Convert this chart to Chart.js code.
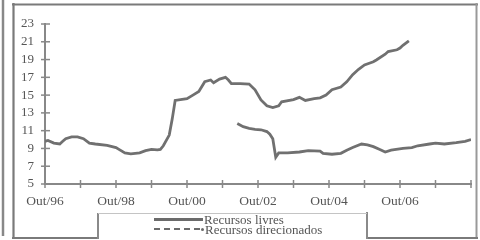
<!DOCTYPE html>
<html>
<head>
<meta charset="utf-8">
<script src="https://cdn.jsdelivr.net/npm/chart.js@4"></script>
<style>
  html, body { margin: 0; padding: 0; background: #fff; }
  #wrap { position: relative; width: 480px; height: 240px; overflow: hidden; background: #fff; }
  #c { position: absolute; left: 0; top: 0; }
  .leg { position: absolute; font-family: "Liberation Serif", "DejaVu Serif", serif; font-size: 13px; color: #555; white-space: nowrap; line-height: 13px; }
</style>
</head>
<body>
<div id="wrap">
  <canvas id="c" width="480" height="240"></canvas>
  <div style="position:absolute;left:154px;top:218px;width:49px;height:2.5px;background:#6b6b6b"></div>
  <div class="leg" id="leg1" style="left:204px;top:213px"></div>
  <div style="position:absolute;left:154px;top:228px;width:46px;height:0;border-top:2.5px dashed #6b6b6b"></div>
  <div style="position:absolute;left:201px;top:228px;width:3px;height:3px;background:#6b6b6b;border-radius:2px"></div>
  <div class="leg" id="leg2" style="left:205px;top:223px"></div>
</div>
<script>
// x positions are months counted from Out/96 (0) to Out/08 (144)
const seriesNames = ['Recursos livres', 'Recursos direcionados'];

const livresMonths = [0, 1, 3, 5, 6, 7, 9, 11, 13, 15, 17, 21, 24, 25, 27, 29, 32, 34, 36, 38, 39, 40, 42, 43, 44, 48, 50, 52, 54, 56, 57, 59, 61, 62, 63, 66, 69, 71, 73, 75, 77, 79, 80, 84, 86, 88, 91, 93, 95, 97, 100, 102, 104, 106, 108, 111, 112, 115, 116, 119, 120, 121, 123];
const livresValues = [9.8, 9.9, 9.6, 9.5, 9.8, 10.1, 10.3, 10.3, 10.1, 9.6, 9.5, 9.35, 9.1, 8.9, 8.5, 8.4, 8.5, 8.75, 8.9, 8.85, 8.9, 9.3, 10.5, 12.3, 14.4, 14.6, 15.0, 15.4, 16.5, 16.7, 16.4, 16.8, 17.0, 16.7, 16.3, 16.3, 16.25, 15.6, 14.45, 13.8, 13.6, 13.8, 14.25, 14.5, 14.75, 14.4, 14.6, 14.7, 15.0, 15.6, 15.9, 16.5, 17.3, 17.9, 18.4, 18.75, 18.95, 19.6, 19.9, 20.1, 20.3, 20.6, 21.1];

const direcMonths = [65, 67, 69, 71, 73, 75, 76, 77, 78, 79, 82, 86, 89, 93, 94, 97, 100, 102, 104, 107, 109, 111, 113, 115, 117, 121, 124, 126, 130, 132, 135, 139, 142, 144];
const direcValues = [11.8, 11.45, 11.25, 11.15, 11.1, 10.9, 10.6, 10.1, 8.0, 8.5, 8.5, 8.6, 8.75, 8.7, 8.45, 8.35, 8.45, 8.8, 9.1, 9.5, 9.4, 9.2, 8.9, 8.6, 8.8, 9.0, 9.1, 9.3, 9.5, 9.6, 9.5, 9.65, 9.8, 10.0];

const xTickLabels = ['Out/96', '', 'Out/98', '', 'Out/00', '', 'Out/02', '', 'Out/04', '', 'Out/06', '', ''];
const yTickValues = [5, 7, 9, 11, 13, 15, 17, 19, 21, 23];

document.getElementById('leg1').textContent = seriesNames[0];
document.getElementById('leg2').textContent = seriesNames[1];

const toPoints = (xs, ys) => xs.map((m, i) => ({ x: m, y: ys[i] }));

function seg(ctx, x1, y1, x2, y2, color, w) {
  ctx.beginPath();
  ctx.strokeStyle = color;
  ctx.lineWidth = w;
  ctx.moveTo(x1, y1);
  ctx.lineTo(x2, y2);
  ctx.stroke();
}

const frame = {
  id: 'frame',
  afterDraw(chart) {
    const ctx = chart.ctx, xs = chart.scales.x, ys = chart.scales.y;
    ctx.save();
    // page edge
    seg(ctx, 3, 0, 3, 236, '#888', 2.5);
    // outer frame
    seg(ctx, 12, 4.5, 478, 4.5, '#7a7a7a', 2.2);
    seg(ctx, 13.5, 3, 13.5, 239, '#7a7a7a', 2.2);
    seg(ctx, 476.5, 3, 476.5, 239, '#999', 2);
    seg(ctx, 12, 238, 98, 238, '#7a7a7a', 2.2);
    seg(ctx, 366, 238, 478, 238, '#7a7a7a', 2.2);
    // legend box
    seg(ctx, 98, 213, 98, 239, '#8a8a8a', 2);
    seg(ctx, 367, 212, 367, 239, '#8a8a8a', 2);
    seg(ctx, 98, 213.5, 367, 213.5, '#c4c4c4', 1);
    // axis tick marks crossing the axes
    xs.ticks.forEach((t, i) => {
      const px = xs.getPixelForTick(i);
      seg(ctx, px, ys.bottom - 4, px, ys.bottom + 4, '#888', 1.5);
    });
    ys.ticks.forEach((t, i) => {
      const py = ys.getPixelForTick(i);
      seg(ctx, xs.left - 4, py, xs.left + 5, py, '#888', 1.5);
    });
    ctx.restore();
  }
};

new Chart(document.getElementById('c'), {
  type: 'line',
  data: {
    datasets: [
      { label: seriesNames[0], data: toPoints(livresMonths, livresValues), borderColor: '#707070', borderWidth: 2.8, pointRadius: 0, tension: 0, fill: false },
      { label: seriesNames[1], data: toPoints(direcMonths, direcValues), borderColor: '#707070', borderWidth: 2.8, pointRadius: 0, tension: 0, fill: false }
    ]
  },
  options: {
    responsive: false,
    animation: false,
    layout: { padding: { left: 0, top: 24, right: 8, bottom: 0 } },
    plugins: { legend: { display: false }, tooltip: { enabled: false } },
    scales: {
      x: {
        type: 'linear', min: 0, max: 144,
        afterBuildTicks(s) { s.ticks = xTickLabels.map((l, i) => ({ value: i * 12 })); },
        afterFit(s) { s.height = 56; },
        grid: { display: false, drawTicks: false },
        border: { display: true, color: '#888', width: 2 },
        ticks: {
          autoSkip: false, maxRotation: 0, padding: 9,
          color: '#555',
          font: { family: 'Liberation Serif', size: 13.5 },
          callback: (v) => xTickLabels[Math.round(v / 12)]
        }
      },
      y: {
        min: 5, max: 23,
        afterBuildTicks(s) { s.ticks = yTickValues.map(v => ({ value: v })); },
        afterFit(s) { s.width = 45; },
        grid: { display: false, drawTicks: false },
        border: { display: true, color: '#888', width: 2 },
        ticks: {
          autoSkip: false,
          padding: 11,
          color: '#555',
          font: { family: 'Liberation Serif', size: 13 },
          callback: (v) => String(v)
        }
      }
    }
  },
  plugins: [frame]
});
</script>
</body>
</html>
